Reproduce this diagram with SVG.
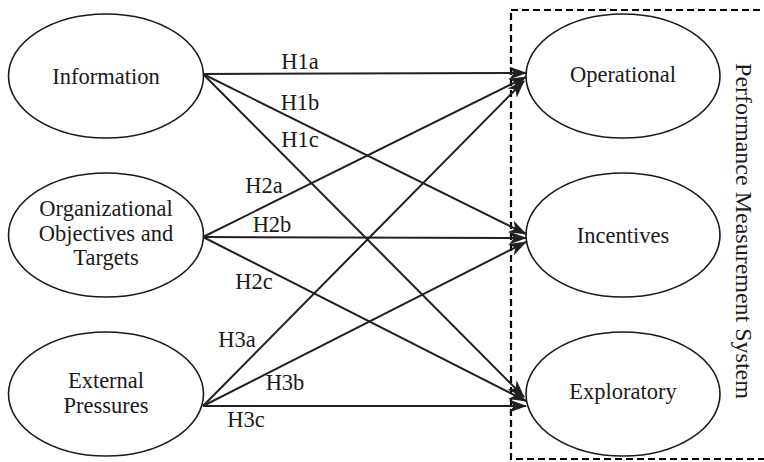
<svg xmlns="http://www.w3.org/2000/svg" width="764" height="462" viewBox="0 0 764 462" font-family="'Liberation Serif', 'Times New Roman', serif">
<style>
  .node ellipse { fill: #ffffff; stroke: #1a1a1a; stroke-width: 1.6; }
  text { font-family: "Liberation Serif", "Times New Roman", serif; font-size: 22.5px; fill: #1a1a1a; }
  .c { text-anchor: middle; }
  .edge { stroke: #231f20; stroke-width: 2; fill: none; marker-end: url(#arr); }
  .box { fill: none; stroke: #000; stroke-width: 2.2; stroke-dasharray: 7 4; }
</style>
<defs>
  <marker id="arr" viewBox="0 0 18 13" refX="17" refY="6.5" markerWidth="18" markerHeight="13" markerUnits="userSpaceOnUse" orient="auto">
    <path d="M0,0 L18,6.5 L0,13 L5,6.5 z" fill="#231f20"/>
  </marker>
</defs>
<rect class="box" x="511" y="10" width="260" height="449"/>
<g id="connectors">
  <line class="edge" x1="203" y1="74" x2="526" y2="73"/>
  <line class="edge" x1="203" y1="74" x2="526" y2="234"/>
  <line class="edge" x1="203" y1="74" x2="524" y2="397"/>
  <line class="edge" x1="203" y1="237" x2="526" y2="77"/>
  <line class="edge" x1="203" y1="237" x2="526" y2="238"/>
  <line class="edge" x1="203" y1="237" x2="526" y2="401"/>
  <line class="edge" x1="203" y1="406" x2="524" y2="81"/>
  <line class="edge" x1="203" y1="406" x2="526" y2="242"/>
  <line class="edge" x1="203" y1="406" x2="526" y2="406"/>
  <text class="c" x="300" y="69">H1a</text>
  <text class="c" x="300" y="110">H1b</text>
  <text class="c" x="300" y="147">H1c</text>
  <text class="c" x="264" y="193">H2a</text>
  <text class="c" x="272" y="232">H2b</text>
  <text class="c" x="254" y="289">H2c</text>
  <text class="c" x="237" y="347">H3a</text>
  <text class="c" x="285" y="390">H3b</text>
  <text class="c" x="246" y="427">H3c</text>
</g>
<g id="information" class="node">
  <ellipse cx="106" cy="76" rx="97.5" ry="62"/>
  <text class="c" x="106" y="84">Information</text>
</g>
<g id="organizational" class="node">
  <ellipse cx="106" cy="235" rx="97.5" ry="62"/>
  <text class="c" x="106" y="216">Organizational</text>
  <text class="c" x="106" y="241">Objectives and</text>
  <text class="c" x="106" y="265">Targets</text>
</g>
<g id="external" class="node">
  <ellipse cx="106" cy="394" rx="97.5" ry="62"/>
  <text class="c" x="106" y="388">External</text>
  <text class="c" x="106" y="413">Pressures</text>
</g>
<g id="operational" class="node">
  <ellipse cx="623" cy="76" rx="97" ry="62"/>
  <text class="c" x="623" y="82">Operational</text>
</g>
<g id="incentives" class="node">
  <ellipse cx="623" cy="235" rx="97" ry="62"/>
  <text class="c" x="623" y="243">Incentives</text>
</g>
<g id="exploratory" class="node">
  <ellipse cx="623" cy="394" rx="97" ry="62"/>
  <text class="c" x="623" y="399">Exploratory</text>
</g>
<text class="c" transform="translate(736,231) rotate(90)" style="font-size:24px">Performance Measurement System</text>
</svg>
